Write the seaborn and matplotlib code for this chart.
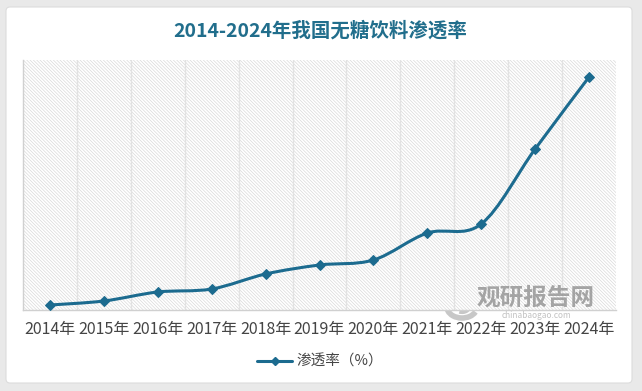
import numpy as np
import pandas as pd
import matplotlib
matplotlib.use("Agg")
import matplotlib.pyplot as plt
from matplotlib.path import Path
from matplotlib.patches import PathPatch, FancyBboxPatch, Arc
from matplotlib.lines import Line2D
import seaborn as sns

years = ["2014年", "2015年", "2016年", "2017年", "2018年", "2019年",
         "2020年", "2021年", "2022年", "2023年", "2024年"]
rate = [0.2, 0.36, 0.72, 0.84, 1.44, 1.8, 2.0, 3.08, 3.44, 6.44, 9.32]
title = "2014-2024年我国无糖饮料渗透率"
legend_label = "渗透率（%）"

sns.set_theme(style="white")
plt.rcParams['font.family'] = ['Noto Sans CJK SC', 'DejaVu Sans']
plt.rcParams['hatch.color'] = '#d6d6d6'
plt.rcParams['hatch.linewidth'] = 0.45

LINE = '#1c6b8f'
TEXT = '#454545'

fig = plt.figure(figsize=(6.42, 3.91), dpi=100)
fig.patch.set_facecolor('#e9e9e9')

bgax = fig.add_axes([0, 0, 1, 1], zorder=0)
bgax.set_axis_off()
bgax.set_xlim(0, 642)
bgax.set_ylim(391, 0)
bgax.add_patch(FancyBboxPatch((6, 7), 626, 376, boxstyle="round,pad=0,rounding_size=4",
                              facecolor='white', edgecolor='#dcdcdc', linewidth=0.8))

ax = fig.add_axes([23/642, 1 - 310/391, 593/642, 250/391], zorder=2)
ax.set_facecolor('none')
df = pd.DataFrame({"year": years, "rate": rate})
x = np.arange(len(years))

ax.set_xlim(-0.5, len(years) - 0.5)
ax.set_ylim(0, 10)

# hatched background
bg = plt.Rectangle((0, 0), 1, 1, transform=ax.transAxes, facecolor='white',
                   edgecolor='#d6d6d6', hatch='\\' * 10, linewidth=0, zorder=0)
ax.add_patch(bg)

# category boundary gridlines
for b in np.arange(0.5, len(years) - 0.5, 1):
    ax.axvline(b, color='#e2e2e2', linewidth=1.0, zorder=1)

# smooth bezier path (Excel-like smoothing)
y = np.array(rate, dtype=float)
verts = [(x[0], y[0])]
codes = [Path.MOVETO]
n = len(x)
for i in range(n - 1):
    p0 = np.array([x[max(i - 1, 0)], y[max(i - 1, 0)]])
    p1 = np.array([x[i], y[i]])
    p2 = np.array([x[i + 1], y[i + 1]])
    p3 = np.array([x[min(i + 2, n - 1)], y[min(i + 2, n - 1)]])
    c1 = p1 + (p2 - p0) / 6
    c2 = p2 - (p3 - p1) / 6
    verts += [tuple(c1), tuple(c2), tuple(p2)]
    codes += [Path.CURVE4] * 3
ax.add_patch(PathPatch(Path(verts, codes), facecolor='none', edgecolor=LINE,
                       linewidth=2.2, zorder=3, capstyle='round'))

sns.lineplot(data=df, x="year", y="rate", ax=ax, marker='D', markersize=5,
             color=LINE, linewidth=0, markeredgecolor=LINE, sort=False, zorder=4)

for s in ['top', 'right']:
    ax.spines[s].set_visible(False)
ax.spines['left'].set_color('#d0d0d0')
ax.spines['bottom'].set_color('#d0d0d0')
ax.spines['left'].set_linewidth(1)
ax.spines['bottom'].set_linewidth(1)
ax.set_yticks([])
ax.set_xticks(x)
ax.set_xticklabels(years, fontsize=11.5, color=TEXT)
ax.tick_params(axis='x', length=0, pad=8)
ax.set_xlabel("")
ax.set_ylabel("")

fig.text(320/642, 1 - 31/391, title, ha='center', va='center', fontsize=14,
         fontweight='bold', color='#216e8c', zorder=5)

# watermark
bgax.add_patch(Arc((462, 307), 30, 22, theta1=20, theta2=300, color='#b0b0b0',
                   linewidth=4, alpha=0.7, zorder=10))
bgax.add_patch(Arc((462, 307), 14, 10, theta1=200, theta2=480, color='#b0b0b0',
                   linewidth=3, alpha=0.7, zorder=10))
bgax.set_zorder(0)
fig.text(536/642, 1 - 298/391, "观研报告网", ha='center', va='center', fontsize=17,
         fontweight='bold', color='#8a8a8a', alpha=0.75, zorder=10)
fig.text(536/642, 1 - 316/391, "chinabaogao.com", ha='center', va='center', fontsize=6,
         color='#9a9a9a', alpha=0.6, zorder=10)

handle = Line2D([], [], color=LINE, linewidth=2.2, marker='D', markersize=4)
leg = fig.legend([handle], [legend_label], loc='center', bbox_to_anchor=(320/642, 1 - 362/391),
                 frameon=False, fontsize=10.5, labelcolor=TEXT, handlelength=2.4,
                 handletextpad=0.3)
leg.set_zorder(5)

fig.savefig("out.png", dpi=100, facecolor=fig.get_facecolor())
